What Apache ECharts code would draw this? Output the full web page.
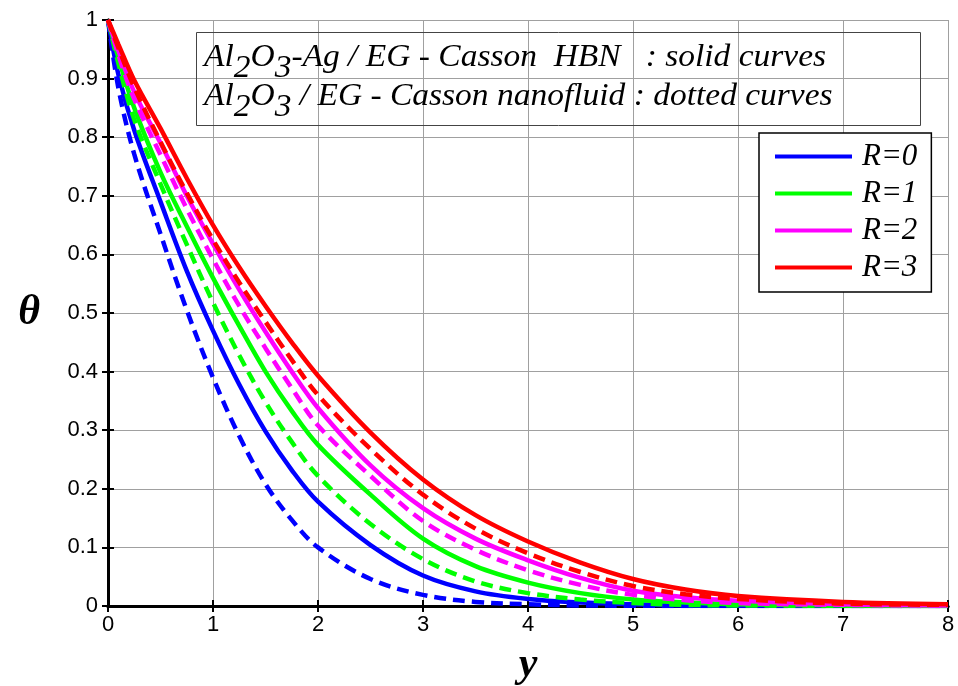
<!DOCTYPE html>
<html>
<head>
<meta charset="utf-8">
<script src="https://cdn.jsdelivr.net/npm/echarts@6/dist/echarts.min.js"></script>
<style>
html,body{margin:0;padding:0;background:#fff;}
#chart{width:958px;height:686px;}
</style>
</head>
<body>
<div id="chart"></div>
<script>
// y positions (x-axis values)
const xs = [0, 0.1, 0.25, 0.5, 0.75, 1, 1.25, 1.5, 1.75, 2, 2.5, 3, 3.5, 4, 4.5, 5, 5.5, 6, 7, 8];
// Al2O3-Ag / EG - Casson HBN (solid curves)
const hbnR0 = [1, 0.906, 0.812, 0.69, 0.572, 0.47, 0.378, 0.298, 0.232, 0.178, 0.104, 0.052, 0.025, 0.012, 0.006, 0.003, 0.001, 0.0005, 0, 0];
const hbnR1 = [1, 0.935, 0.85, 0.74, 0.648, 0.56, 0.478, 0.40, 0.333, 0.275, 0.19, 0.115, 0.068, 0.04, 0.022, 0.011, 0.006, 0.003, 0.001, 0];
const hbnR2 = [1, 0.947, 0.877, 0.79, 0.70, 0.618, 0.54, 0.468, 0.40, 0.338, 0.24, 0.167, 0.115, 0.078, 0.048, 0.026, 0.015, 0.009, 0.003, 0.001];
const hbnR3 = [1, 0.958, 0.897, 0.815, 0.73, 0.65, 0.578, 0.512, 0.45, 0.393, 0.296, 0.216, 0.155, 0.11, 0.074, 0.046, 0.028, 0.017, 0.007, 0.003];
// Al2O3 / EG - Casson nanofluid (dotted curves)
const nfR0 = [1, 0.883, 0.771, 0.635, 0.505, 0.39, 0.29, 0.208, 0.147, 0.10, 0.046, 0.019, 0.007, 0.003, 0.001, 0.0005, 0, 0, 0, 0];
const nfR1 = [1, 0.925, 0.83, 0.72, 0.617, 0.518, 0.428, 0.348, 0.28, 0.222, 0.14, 0.08, 0.042, 0.022, 0.011, 0.005, 0.002, 0.001, 0, 0];
const nfR2 = [1, 0.94, 0.865, 0.77, 0.678, 0.592, 0.512, 0.44, 0.372, 0.308, 0.222, 0.145, 0.096, 0.061, 0.036, 0.019, 0.01, 0.005, 0.002, 0.001];
const nfR3 = [1, 0.952, 0.885, 0.792, 0.705, 0.625, 0.552, 0.485, 0.42, 0.36, 0.268, 0.19, 0.132, 0.09, 0.058, 0.034, 0.02, 0.012, 0.004, 0.002];

const xTicks = [0, 1, 2, 3, 4, 5, 6, 7, 8];
const yTicks = [0, 0.1, 0.2, 0.3, 0.4, 0.5, 0.6, 0.7, 0.8, 0.9, 1];
const legendNames = ['R=0', 'R=1', 'R=2', 'R=3'];
const colors = ['#0000ff', '#00ff00', '#ff00ff', '#ff0000'];

const solids = [hbnR0, hbnR1, hbnR2, hbnR3];
const dashes = [nfR0, nfR1, nfR2, nfR3];

function pairs(arr) { return xs.map((x, i) => [x, arr[i]]); }

const series = [];
for (let i = 0; i < 4; i++) {
  series.push({
    name: legendNames[i] + ' nanofluid',
    type: 'line', data: pairs(dashes[i]), smooth: 0.35, showSymbol: false, symbol: 'none',
    lineStyle: { color: colors[i], width: 4.5, type: [12, 7] }, itemStyle: { color: colors[i] }, z: 3 + i
  });
  series.push({
    name: legendNames[i],
    type: 'line', data: pairs(solids[i]), smooth: 0.35, showSymbol: false, symbol: 'none',
    lineStyle: { color: colors[i], width: 4.5 }, itemStyle: { color: colors[i] }, z: 3 + i
  });
}

const chart = echarts.init(document.getElementById('chart'), null, { renderer: 'canvas' });
const tickFont = { fontFamily: 'Liberation Sans, Arial, sans-serif', fontSize: 22, color: '#000' };
const serif = 'Liberation Serif, Times New Roman, serif';
const subRich = { s: { fontSize: 31, fontStyle: 'italic', fontFamily: serif, padding: [22, 0, 0, 0] } };

chart.setOption({
  animation: false,
  backgroundColor: '#fff',
  grid: { left: 108, right: 10, top: 20, bottom: 80, show: false, containLabel: false, outerBoundsMode: 'none' },
  xAxis: [{
    type: 'value', min: 0, max: 8, interval: 1, position: 'bottom',
    name: 'y', nameLocation: 'middle', nameGap: 38,
    nameTextStyle: { fontFamily: serif, fontStyle: 'italic', fontWeight: 'bold', fontSize: 42, color: '#000' },
    axisLine: { show: true, lineStyle: { color: '#000', width: 3 } },
    axisTick: { show: true, inside: true, length: 6, lineStyle: { color: '#000', width: 2 } },
    axisLabel: Object.assign({ margin: 8, formatter: v => xTicks.includes(v) ? String(v) : '' }, tickFont),
    splitLine: { show: true, lineStyle: { color: '#a0a0a0', width: 1 } }
  }, {
    type: 'value', min: 0, max: 8, interval: 1, position: 'top',
    axisLine: { show: true, lineStyle: { color: '#000', width: 3 } },
    axisTick: { show: true, inside: true, length: 6, lineStyle: { color: '#000', width: 2 } },
    axisLabel: { show: false }, splitLine: { show: false }
  }],
  yAxis: [{
    type: 'value', min: 0, max: 1, interval: 0.1, position: 'left',
    name: 'θ', nameLocation: 'middle', nameGap: 68, nameRotate: 0,
    nameTextStyle: { fontFamily: serif, fontStyle: 'italic', fontWeight: 'bold', fontSize: 42, color: '#000' },
    axisLine: { show: true, lineStyle: { color: '#000', width: 3 } },
    axisTick: { show: true, inside: true, length: 6, lineStyle: { color: '#000', width: 2 } },
    axisLabel: Object.assign({ margin: 10, formatter: v => { const t = yTicks.find(k => Math.abs(k - v) < 1e-9); return t === undefined ? '' : String(t); } }, tickFont),
    splitLine: { show: true, lineStyle: { color: '#a0a0a0', width: 1 } }
  }, {
    type: 'value', min: 0, max: 1, interval: 0.1, position: 'right',
    axisLine: { show: true, lineStyle: { color: '#000', width: 3 } },
    axisTick: { show: true, inside: true, length: 6, lineStyle: { color: '#000', width: 2 } },
    axisLabel: { show: false }, splitLine: { show: false }
  }],
  legend: {
    data: legendNames, orient: 'vertical', left: 759, top: 133,
    icon: 'rect', itemWidth: 77, itemHeight: 4, itemGap: 6,
    padding: [8, 14, 9, 16],
    borderColor: '#000', borderWidth: 1.5, backgroundColor: '#fff',
    textStyle: { fontFamily: serif, fontStyle: 'italic', fontSize: 31, color: '#000', padding: [0, 0, 0, 5] }
  },
  graphic: [
    { type: 'rect', left: 194, top: 30, shape: { width: 724, height: 93 }, style: { fill: 'none', stroke: '#444', lineWidth: 1 }, z: 10 },
    { type: 'text', x: 204, y: 31, scaleX: 1.08, z: 11,
      style: { text: 'Al{s|2}O{s|3}-Ag / EG - Casson  HBN   : solid curves', font: 'italic 31px ' + serif, fill: '#000', rich: subRich } },
    { type: 'text', x: 204, y: 70, scaleX: 1.08, z: 11,
      style: { text: 'Al{s|2}O{s|3} / EG - Casson nanofluid : dotted curves', font: 'italic 31px ' + serif, fill: '#000', rich: subRich } }
  ],
  series: series
});
</script>
</body>
</html>
